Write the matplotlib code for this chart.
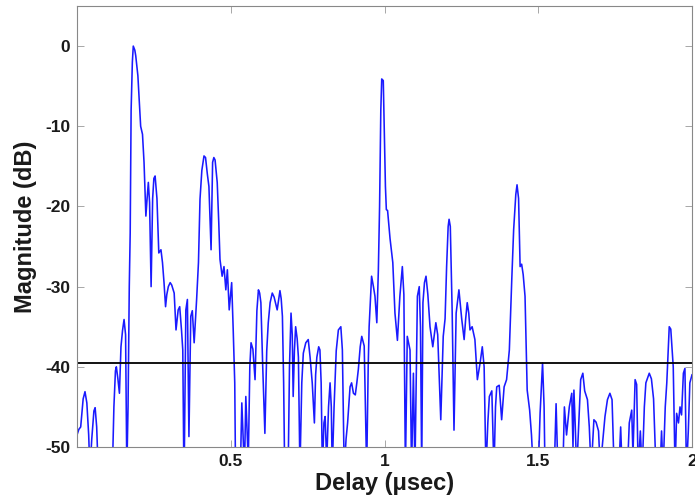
import matplotlib
matplotlib.use("Agg")
import matplotlib.pyplot as plt

delay_us = [
    0.000, 0.006, 0.012, 0.020, 0.026, 0.032, 0.038, 0.042, 0.048, 0.055,
    0.059, 0.064, 0.069, 0.115, 0.120, 0.125, 0.128, 0.133, 0.138, 0.143,
    0.148, 0.153, 0.158, 0.162, 0.166, 0.170, 0.173, 0.176, 0.180, 0.183,
    0.188, 0.191, 0.198, 0.204, 0.207, 0.213, 0.218, 0.224, 0.228, 0.232,
    0.236, 0.241, 0.246, 0.250, 0.254, 0.260, 0.266, 0.273, 0.278, 0.283,
    0.288, 0.292, 0.297, 0.303, 0.308, 0.316, 0.322, 0.329, 0.334, 0.340,
    0.344, 0.348, 0.354, 0.359, 0.364, 0.370, 0.375, 0.381, 0.389, 0.395,
    0.400, 0.406, 0.413, 0.418, 0.424, 0.429, 0.436, 0.441, 0.445, 0.449,
    0.456, 0.461, 0.465, 0.472, 0.478, 0.484, 0.489, 0.495, 0.503, 0.508,
    0.513, 0.516, 0.530, 0.536, 0.542, 0.545, 0.549, 0.557, 0.562, 0.566,
    0.572, 0.579, 0.585, 0.590, 0.594, 0.598, 0.604, 0.611, 0.617, 0.622,
    0.628, 0.635, 0.641, 0.651, 0.660, 0.664, 0.668, 0.672, 0.676, 0.686,
    0.691, 0.696, 0.700, 0.703, 0.707, 0.711, 0.716, 0.720, 0.725, 0.731,
    0.736, 0.744, 0.752, 0.758, 0.765, 0.772, 0.776, 0.780, 0.786, 0.790,
    0.794, 0.798, 0.803, 0.807, 0.812, 0.818, 0.823, 0.827, 0.830, 0.836,
    0.843, 0.850, 0.858, 0.863, 0.869, 0.875, 0.880, 0.888, 0.893, 0.899,
    0.905, 0.910, 0.915, 0.921, 0.926, 0.934, 0.938, 0.942, 0.947, 0.950,
    0.955, 0.958, 0.964, 0.969, 0.975, 0.980, 0.984, 0.988, 0.991, 0.996,
    1.000, 1.003, 1.006, 1.010, 1.018, 1.027, 1.034, 1.042, 1.050, 1.058,
    1.063, 1.068, 1.074, 1.083, 1.088, 1.094, 1.099, 1.107, 1.113, 1.117,
    1.121, 1.125, 1.130, 1.135, 1.141, 1.148, 1.157, 1.167, 1.173, 1.183,
    1.191, 1.197, 1.202, 1.207, 1.210, 1.214, 1.220, 1.226, 1.233, 1.242,
    1.251, 1.259, 1.264, 1.269, 1.274, 1.278, 1.285, 1.294, 1.302, 1.311,
    1.318, 1.324, 1.330, 1.336, 1.341, 1.349, 1.356, 1.361, 1.365, 1.373,
    1.381, 1.389, 1.397, 1.406, 1.414, 1.420, 1.427, 1.431, 1.436, 1.441,
    1.446, 1.451, 1.457, 1.464, 1.472, 1.478, 1.484, 1.500, 1.506, 1.514,
    1.519, 1.522, 1.552, 1.558, 1.564, 1.580, 1.585, 1.592, 1.601, 1.609,
    1.613, 1.616, 1.620, 1.625, 1.633, 1.638, 1.645, 1.651, 1.660, 1.666,
    1.672, 1.681, 1.688, 1.696, 1.702, 1.708, 1.717, 1.725, 1.733, 1.740,
    1.747, 1.762, 1.768, 1.773, 1.790, 1.796, 1.804, 1.808, 1.815, 1.820,
    1.825, 1.832, 1.838, 1.845, 1.850, 1.861, 1.868, 1.875, 1.883, 1.896,
    1.901, 1.906, 1.913, 1.918, 1.926, 1.931, 1.939, 1.945, 1.950, 1.956,
    1.961, 1.966, 1.972, 1.977, 1.982, 1.988, 1.993, 2.000,
]

magnitude_db = [
    -48.5, -47.8, -47.5, -44.0, -43.1, -44.5, -48.5, -53.0, -49.0, -45.5,
    -45.1, -47.5, -53.0, -53.0, -45.0, -40.5, -40.0, -41.5, -43.3, -37.5,
    -35.5, -34.1, -36.0, -53.0, -45.0, -30.0, -23.3, -8.0, -2.0, 0.0,
    -0.5, -1.2, -3.7, -8.0, -10.0, -11.0, -14.5, -21.2, -19.0, -17.0,
    -19.5, -30.0, -19.0, -16.5, -16.2, -19.0, -25.8, -25.4, -27.0, -29.5,
    -32.5, -31.0, -30.0, -29.5, -29.8, -30.8, -35.4, -32.9, -32.5, -35.5,
    -37.9, -55.0, -32.9, -31.6, -48.7, -33.7, -33.0, -37.0, -31.6, -27.0,
    -19.1, -15.5, -13.7, -13.9, -16.0, -17.5, -25.4, -14.5, -13.9, -14.2,
    -17.0, -22.0, -26.6, -28.7, -27.5, -30.4, -27.9, -32.9, -29.5, -35.4,
    -42.0, -55.0, -55.0, -44.5, -50.5, -52.0, -43.7, -52.0, -40.0, -37.0,
    -37.8, -41.6, -33.0, -30.4, -30.8, -32.0, -40.0, -48.3, -38.0, -34.5,
    -32.0, -30.8, -31.3, -32.9, -30.5, -31.5, -33.7, -42.0, -55.0, -55.0,
    -40.0, -33.3, -36.0, -43.7, -38.0, -35.0, -36.5, -38.8, -53.0, -42.0,
    -38.3, -37.0, -36.6, -38.8, -42.0, -47.0, -41.0, -38.8, -37.5, -37.9,
    -42.0, -53.0, -47.0, -46.2, -52.0, -45.0, -42.0, -45.0, -53.0, -45.0,
    -38.0, -35.4, -35.0, -37.9, -53.0, -49.0, -47.0, -42.5, -42.0, -43.3,
    -43.5, -42.0, -40.3, -37.5, -36.2, -37.4, -45.0, -53.0, -40.0, -35.0,
    -31.0, -28.7, -30.0, -31.2, -34.5, -28.0, -20.0, -8.0, -4.1, -4.3,
    -12.0, -17.5, -20.4, -20.5, -24.0, -27.0, -33.3, -36.7, -31.2, -27.5,
    -31.0, -53.0, -36.2, -37.9, -53.0, -40.8, -53.0, -31.2, -30.0, -35.0,
    -53.0, -32.0, -29.5, -28.7, -31.0, -35.0, -37.5, -34.5, -36.0, -46.6,
    -36.2, -34.0, -27.5, -22.5, -21.6, -22.5, -33.0, -47.9, -33.3, -30.4,
    -34.0, -36.6, -34.0, -32.0, -33.3, -35.4, -35.0, -36.6, -41.6, -39.5,
    -37.5, -40.0, -53.0, -47.0, -43.7, -43.0, -53.0, -45.0, -42.5, -42.3,
    -46.6, -42.5, -41.6, -37.9, -29.0, -22.9, -18.5, -17.3, -19.0, -27.5,
    -27.2, -28.5, -31.2, -42.9, -45.4, -48.5, -53.0, -53.0, -45.8, -39.5,
    -45.0, -53.0, -53.0, -44.6, -53.0, -53.0, -45.0, -48.5, -45.0, -43.3,
    -50.0, -42.9, -47.0, -53.0, -46.0, -41.6, -40.8, -43.0, -44.1, -47.5,
    -53.0, -46.6, -46.9, -48.0, -53.0, -50.0, -46.2, -44.1, -43.3, -44.1,
    -53.0, -53.0, -47.5, -53.0, -53.0, -47.0, -45.4, -51.0, -41.6, -42.2,
    -53.0, -48.0, -53.0, -45.0, -42.0, -40.8, -41.5, -44.0, -53.0, -53.0,
    -48.0, -53.0, -45.0, -42.0, -35.0, -35.3, -40.0, -53.0, -45.8, -47.0,
    -45.0, -46.0, -40.8, -40.2, -53.0, -48.0, -42.0, -41.0,
]

threshold_db = -39.5
x_ticks = [0.5, 1, 1.5, 2]
x_tick_labels = ["0.5", "1", "1.5", "2"]
y_ticks = [0, -10, -20, -30, -40, -50]
y_tick_labels = ["0", "-10", "-20", "-30", "-40", "-50"]

plt.rcParams["font.family"] = ["Liberation Sans", "DejaVu Sans"]
plt.rcParams["font.weight"] = "bold"

fig = plt.figure(figsize=(6.95, 5.0), dpi=100)
ax = fig.add_axes([77 / 695, 1 - 447 / 500, 615 / 695, 441 / 500])

ax.plot(delay_us, magnitude_db, color="#1a1aff", lw=1.15)
ax.axhline(threshold_db, color="black", lw=1.3)

ax.set_xlim(0, 2)
ax.set_ylim(-50, 5)
ax.set_xticks(x_ticks)
ax.set_xticklabels(x_tick_labels)
ax.set_yticks(y_ticks)
ax.set_yticklabels(y_tick_labels)

for s in ax.spines.values():
    s.set_color("#888888")
    s.set_linewidth(0.8)
ax.tick_params(direction="in", top=True, right=True, length=5, width=0.6,
               color="#999999", labelsize=12.5, labelcolor="#1a1a1a", pad=5)
for lbl in ax.get_xticklabels() + ax.get_yticklabels():
    lbl.set_fontweight("bold")

ax.set_xlabel("Delay (μsec)", fontsize=17, fontweight="bold", color="#1a1a1a", labelpad=2)
ax.set_ylabel("Magnitude (dB)", fontsize=17, fontweight="bold", color="#1a1a1a", labelpad=6)

fig.savefig("out.png", dpi=100)
